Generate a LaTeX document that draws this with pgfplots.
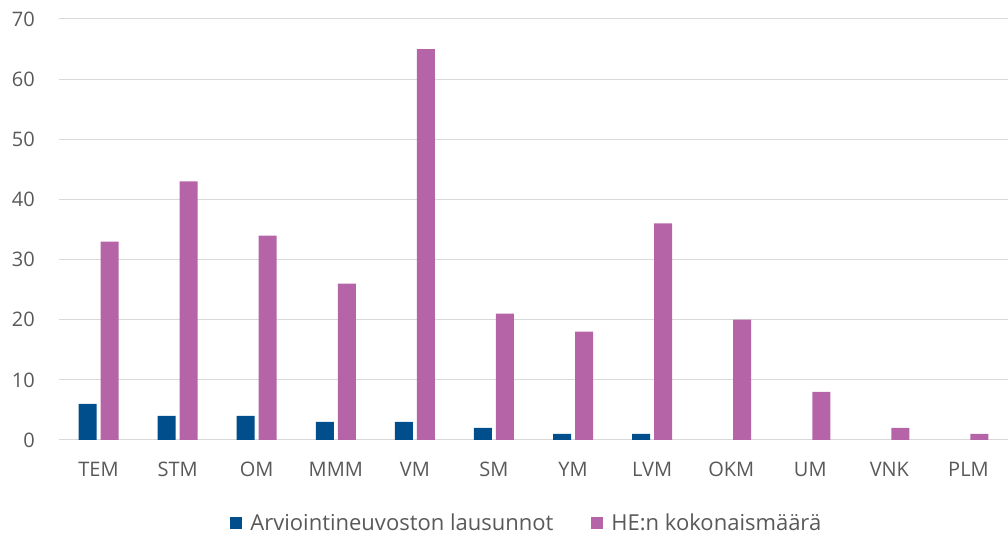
\documentclass[border=0pt]{standalone}
\usepackage{pgfplots}
\pgfplotsset{compat=1.18}
\usepackage{fontspec}
\setmainfont{Open Sans}
\definecolor{cblue}{HTML}{004F8C}
\definecolor{cpurp}{HTML}{B565A7}
\definecolor{cgrid}{HTML}{D9D9D9}
\definecolor{ctext}{HTML}{595959}
\begin{document}
\begin{tikzpicture}
\useasboundingbox (-59pt,-97pt) rectangle (949pt,440pt);
\begin{axis}[
  at={(0pt,0pt)}, anchor=south west,
  scale only axis, width=949pt, height=421pt,
  ybar=4pt, bar width=18pt,
  xmin=-0.5, xmax=11.5, ymin=0, ymax=70,
  xtick={0,...,11},
  xticklabels={TEM,STM,OM,MMM,VM,SM,YM,LVM,OKM,UM,VNK,PLM},
  ytick={0,10,...,70},
  axis line style={draw=none},
  major tick length=0pt,
  ymajorgrids, grid style={cgrid, line width=1pt},
  tick label style={font=\fontsize{20}{24}\selectfont, text=ctext},
  /pgf/number format/assume math mode=true,
  xticklabel style={anchor=north, inner sep=0pt, yshift=-22pt},
  yticklabel style={anchor=east, inner sep=0pt, xshift=-24pt},
  legend style={at={(0.493,-0.197)}, anchor=center, draw=none, fill=none,
    legend columns=2, font=\fontsize{22}{26}\selectfont, text=ctext,
    /tikz/every odd column/.append style={column sep=6pt},
    /tikz/every even column/.append style={column sep=36pt}},
  legend image code/.code={\fill[#1] (0pt,-6pt) rectangle (12pt,6pt);},
]
\addplot[fill=cblue, draw=none] coordinates {(0,6) (1,4) (2,4) (3,3) (4,3) (5,2) (6,1) (7,1)};
\addplot[fill=cpurp, draw=none] coordinates {(0,33) (1,43) (2,34) (3,26) (4,65) (5,21) (6,18) (7,36) (8,20) (9,8) (10,2) (11,1)};
\legend{Arviointineuvoston lausunnot, HE:n kokonaismäärä}
\end{axis}
\end{tikzpicture}
\end{document}
